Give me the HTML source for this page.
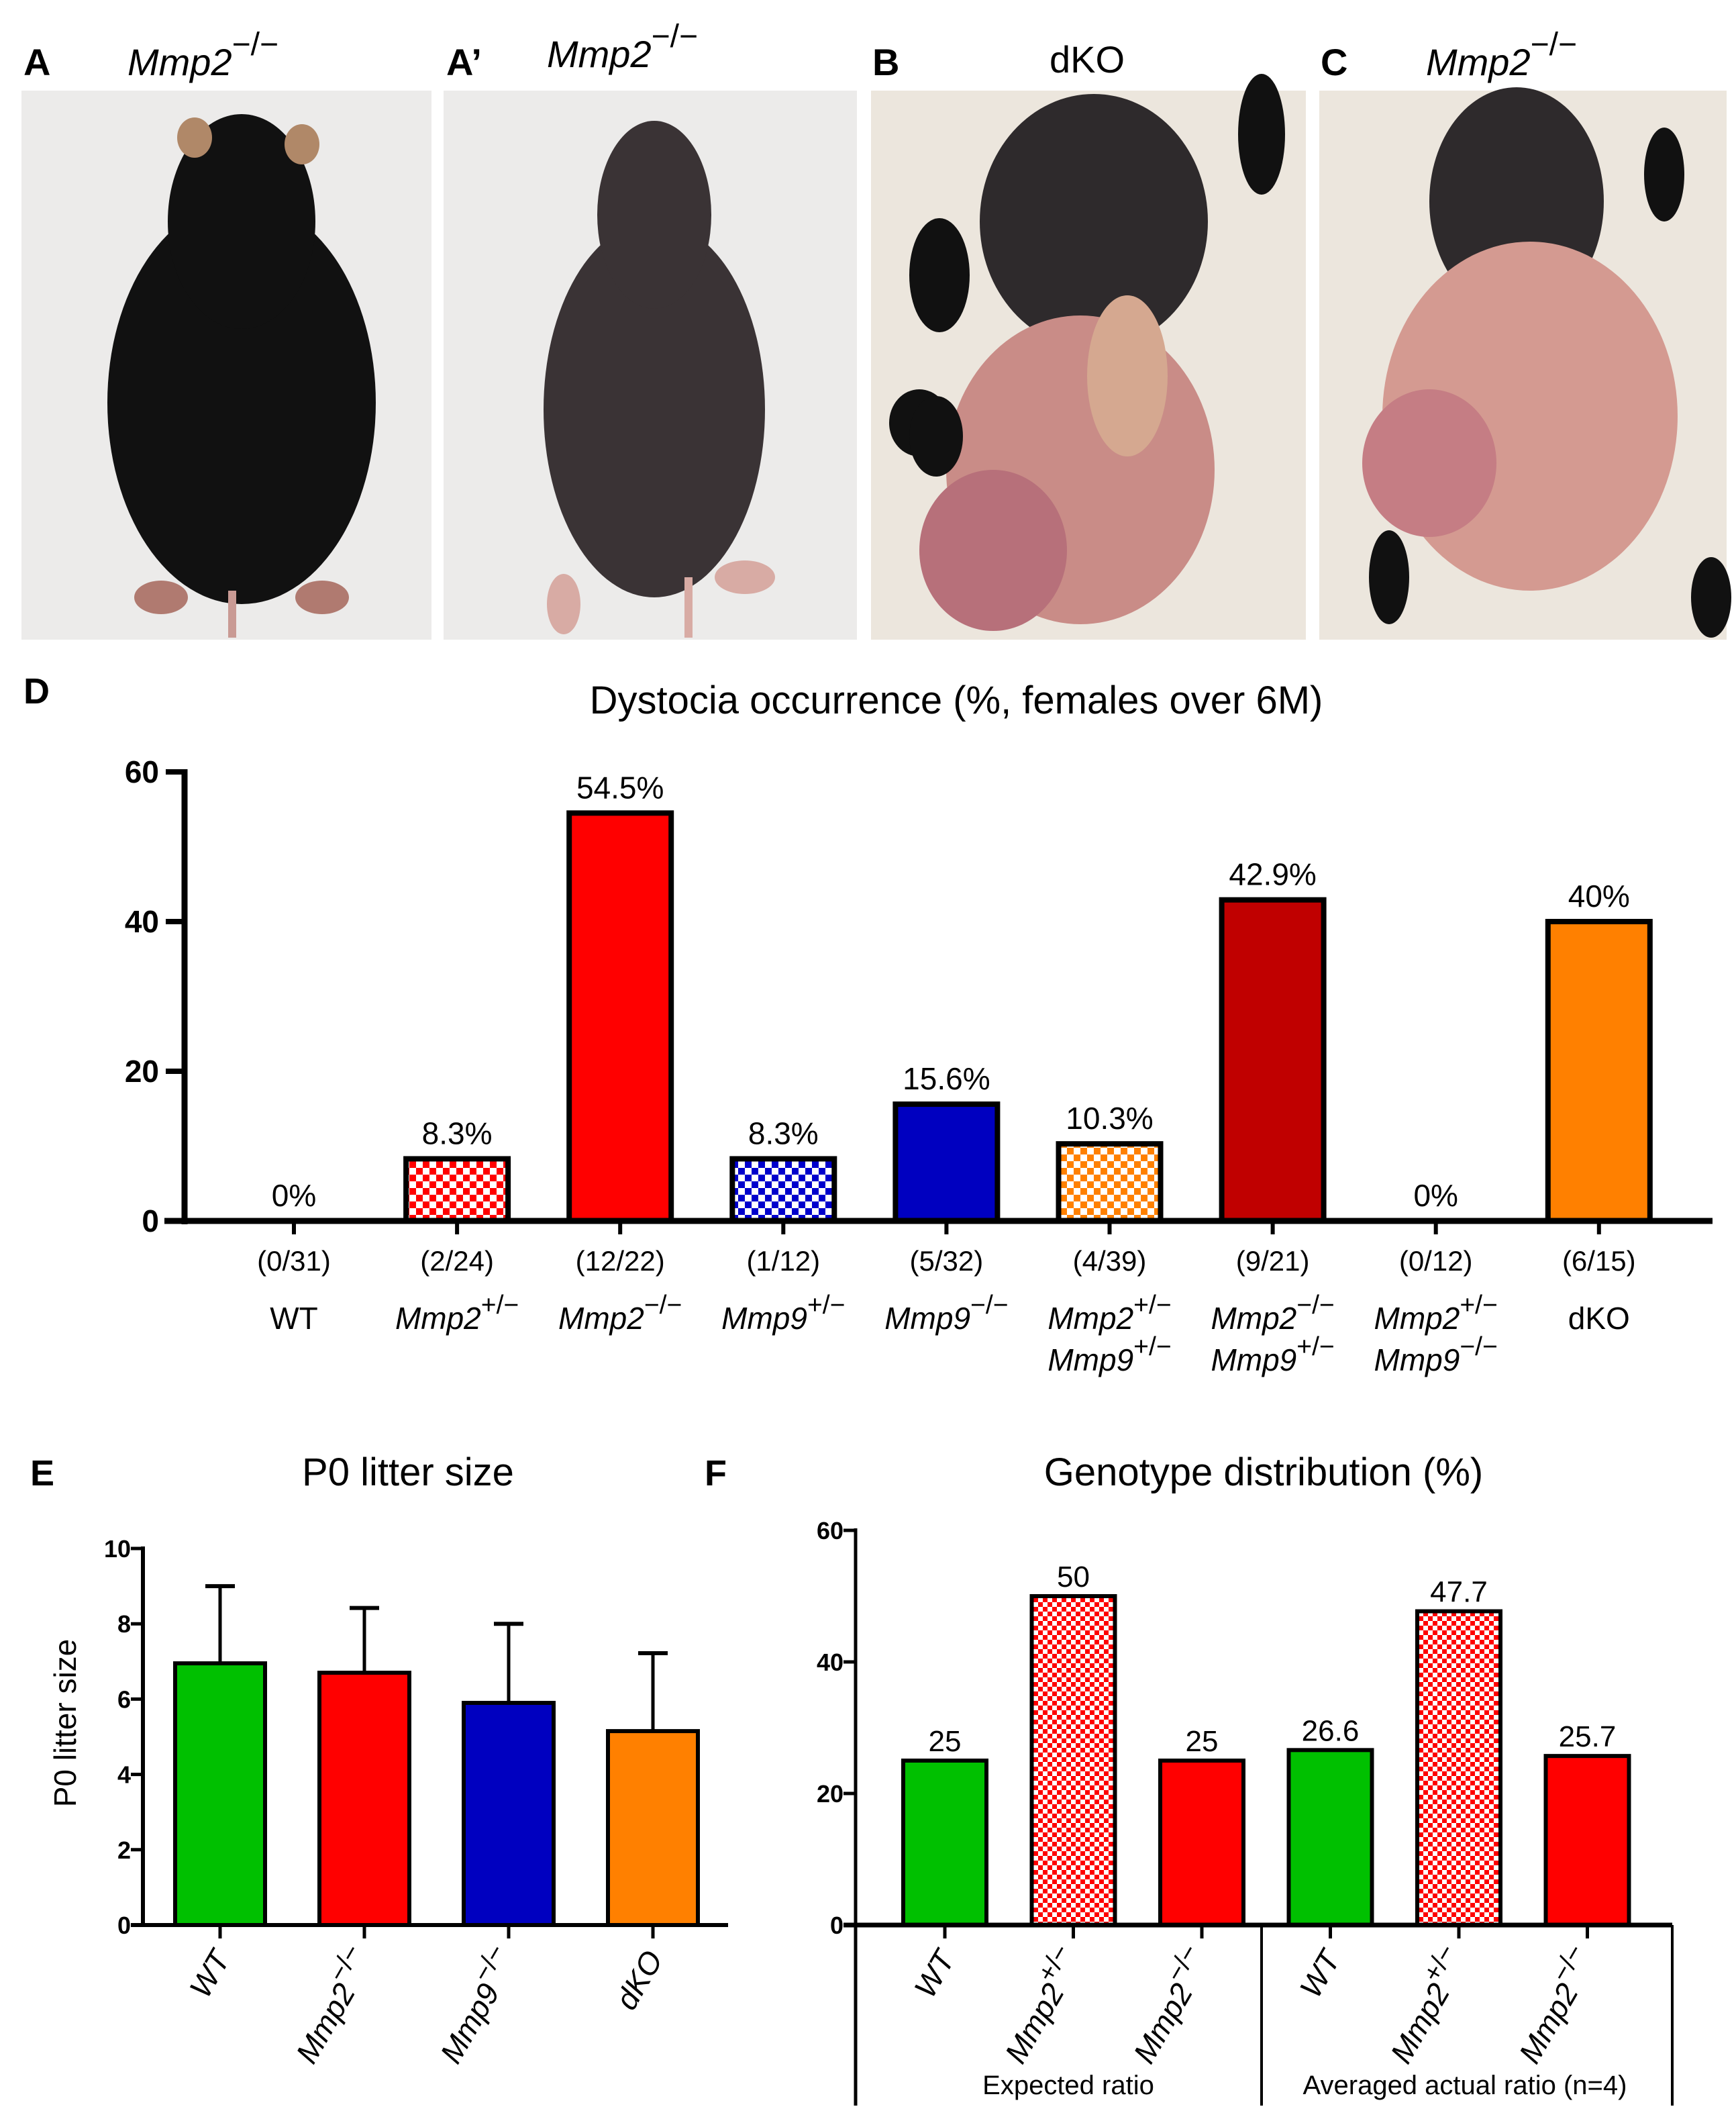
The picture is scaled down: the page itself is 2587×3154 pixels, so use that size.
<!DOCTYPE html>
<html><head><meta charset="utf-8"><style>
html,body{margin:0;padding:0;background:#fff}
svg{display:block;font-family:"Liberation Sans","DejaVu Sans",sans-serif}
</style></head><body>
<svg id="fig" width="2587" height="3154" viewBox="0 0 2587 3154" xmlns="http://www.w3.org/2000/svg">
<defs>
<pattern id="chkR" width="20" height="20" patternUnits="userSpaceOnUse"><rect width="20" height="20" fill="#fff"/><rect width="10" height="10" fill="#f00"/><rect x="10" y="10" width="10" height="10" fill="#f00"/></pattern>
<pattern id="chkB" width="20" height="20" patternUnits="userSpaceOnUse"><rect width="20" height="20" fill="#fff"/><rect width="10" height="10" fill="#0000cc"/><rect x="10" y="10" width="10" height="10" fill="#0000cc"/></pattern>
<pattern id="chkO" width="20" height="20" patternUnits="userSpaceOnUse"><rect width="20" height="20" fill="#fff"/><rect width="10" height="10" fill="#ff8000"/><rect x="10" y="10" width="10" height="10" fill="#ff8000"/></pattern>
<pattern id="chkF" width="14" height="14" patternUnits="userSpaceOnUse"><rect width="14" height="14" fill="#fff"/><rect width="7" height="7" fill="#f00"/><rect x="7" y="7" width="7" height="7" fill="#f00"/></pattern>
</defs>

<!-- photos -->
<g>
<rect x="32" y="135" width="611" height="818" fill="#ecebea"/>
<ellipse cx="360" cy="600" rx="200" ry="300" fill="#111"/>
<ellipse cx="360" cy="330" rx="110" ry="160" fill="#111"/>
<ellipse cx="290" cy="205" rx="26" ry="30" fill="#b08868"/><ellipse cx="450" cy="215" rx="26" ry="30" fill="#b08868"/>
<ellipse cx="240" cy="890" rx="40" ry="25" fill="#b07a70"/><ellipse cx="480" cy="890" rx="40" ry="25" fill="#b07a70"/>
<rect x="340" y="880" width="12" height="70" fill="#c99a94"/>
</g>
<g>
<rect x="661" y="135" width="616" height="818" fill="#ecebea"/>
<ellipse cx="975" cy="610" rx="165" ry="280" fill="#3a3335"/>
<ellipse cx="975" cy="320" rx="85" ry="140" fill="#3a3335"/>
<ellipse cx="1110" cy="860" rx="45" ry="25" fill="#d8aba4"/><ellipse cx="840" cy="900" rx="25" ry="45" fill="#d8aba4"/>
<rect x="1020" y="860" width="12" height="90" fill="#d8aba4"/>
</g>
<g>
<rect x="1298" y="135" width="648" height="818" fill="#ece6dd"/>
<ellipse cx="1630" cy="330" rx="170" ry="190" fill="#2e2a2c"/>
<ellipse cx="1610" cy="700" rx="200" ry="230" fill="#c98c87"/>
<ellipse cx="1480" cy="820" rx="110" ry="120" fill="#b7707a"/>
<ellipse cx="1680" cy="560" rx="60" ry="120" fill="#d5a890"/>
<ellipse cx="1400" cy="410" rx="45" ry="85" fill="#111"/><ellipse cx="1880" cy="200" rx="35" ry="90" fill="#111"/>
<ellipse cx="1370" cy="630" rx="45" ry="50" fill="#111"/><ellipse cx="1395" cy="650" rx="40" ry="60" fill="#111"/>
</g>
<g>
<rect x="1966" y="135" width="607" height="818" fill="#ece6dd"/>
<ellipse cx="2260" cy="300" rx="130" ry="170" fill="#2e2a2c"/>
<ellipse cx="2280" cy="620" rx="220" ry="260" fill="#d49a91"/>
<ellipse cx="2130" cy="690" rx="100" ry="110" fill="#c57d84"/>
<ellipse cx="2480" cy="260" rx="30" ry="70" fill="#111"/><ellipse cx="2070" cy="860" rx="30" ry="70" fill="#111"/><ellipse cx="2550" cy="890" rx="30" ry="60" fill="#111"/>
</g>
<g font-size="56">
<text x="35" y="112" font-weight="bold">A</text>
<text x="190" y="112" font-style="italic">Mmp2<tspan dy="-30" font-size="48" font-style="normal">−/−</tspan></text>
<text x="665" y="112" font-weight="bold">A’</text>
<text x="815" y="100" font-style="italic">Mmp2<tspan dy="-30" font-size="48" font-style="normal">−/−</tspan></text>
<text x="1300" y="112" font-weight="bold">B</text>
<text x="1620" y="108" text-anchor="middle">dKO</text>
<text x="1968" y="112" font-weight="bold">C</text>
<text x="2125" y="112" font-style="italic">Mmp2<tspan dy="-30" font-size="48" font-style="normal">−/−</tspan></text>
</g>
<g id="pD"></g><g id="pE"></g><g id="pF"></g>
</svg>
<script>
// Panel D data
const dCats = ["WT","Mmp2+/-","Mmp2-/-","Mmp9+/-","Mmp9-/-","Mmp2+/-Mmp9+/-","Mmp2-/-Mmp9+/-","Mmp2+/-Mmp9-/-","dKO"];
const dValues = [0, 8.3, 54.5, 8.3, 15.6, 10.3, 42.9, 0, 40];
const dValueLabels = ["0%","8.3%","54.5%","8.3%","15.6%","10.3%","42.9%","0%","40%"];
const dCounts = ["(0/31)","(2/24)","(12/22)","(1/12)","(5/32)","(4/39)","(9/21)","(0/12)","(6/15)"];
const dTicks = [0, 20, 40, 60];
// Panel E data
const eCats = ["WT","Mmp2-/-","Mmp9-/-","dKO"];
const eMeans = [6.95, 6.7, 5.9, 5.15];
const eErrTop = [9.0, 8.42, 8.0, 7.22];
const eTicks = [0, 2, 4, 6, 8, 10];
// Panel F data
const fCats = ["WT","Mmp2+/-","Mmp2-/-","WT","Mmp2+/-","Mmp2-/-"];
const fValues = [25, 50, 25, 26.6, 47.7, 25.7];
const fValueLabels = ["25","50","25","26.6","47.7","25.7"];
const fTicks = [0, 20, 40, 60];
const fGroups = ["Expected ratio","Averaged actual ratio (n=4)"];

const NS = "http://www.w3.org/2000/svg";
function mk(tag, attrs, parent){const e=document.createElementNS(NS,tag);for(const k in attrs)e.setAttribute(k,attrs[k]);parent.appendChild(e);return e;}
function geno(t, txt, fs){
  const m = txt.match(/^(Mmp\d)([+-]\/[+-])$/);
  if(!m){t.textContent=txt;return;}
  const a=mk('tspan',{'font-style':'italic'},t);a.textContent=m[1];
  const b=mk('tspan',{dy:-fs*0.5,'font-size':fs*0.85},t);b.textContent=m[2].replace(/-/g,'−');
}

// ---------- Panel D ----------
(function(){
  const g=document.getElementById('pD');
  const x0=275,x1=2552,yTop=1150,yBot=1819,vmax=60;
  const y=v=>yBot-(v/vmax)*(yBot-yTop);
  const xc=i=>438+i*243.1;
  const bw=152;
  const fills=["#fff","url(#chkR)","#ff0000","url(#chkB)","#0000c0","url(#chkO)","#c00000","#fff","#ff8000"];
  let t=mk('text',{x:35,y:1048,'font-size':54,'font-weight':'bold'},g);t.textContent="D";
  
  t=mk('text',{x:1425,y:1063,'font-size':58,'text-anchor':'middle'},g);t.textContent="Dystocia occurrence (%, females over 6M)";
  
  dValues.forEach((v,i)=>{
    if(v>0){const r=mk('rect',{x:xc(i)-bw/2,y:y(v),width:bw,height:yBot-y(v),fill:fills[i],stroke:'#000','stroke-width':8},g);
      }
    const vl=mk('text',{x:xc(i),y:y(v)-22,'font-size':46,'text-anchor':'middle'},g);vl.textContent=dValueLabels[i];
    
    mk('line',{x1:xc(i),x2:xc(i),y1:yBot,y2:yBot+20,stroke:'#000','stroke-width':6},g);
    const c=mk('text',{x:xc(i),y:1893,'font-size':42,'text-anchor':'middle'},g);c.textContent=dCounts[i];
    
    const parts=dCats[i].match(/Mmp\d[+-]\/[+-]|WT|dKO/g);
    parts.forEach((p,k)=>{const l=mk('text',{x:xc(i),y:1980+k*62,'font-size':46,'text-anchor':'middle'},g);geno(l,p,46);
      });
  });
  const ax=mk('line',{x1:x0,x2:x0,y1:yTop-4,y2:yBot+5,stroke:'#000','stroke-width':9},g);
  
  const xa=mk('line',{x1:x0-30,x2:x1,y1:yBot,y2:yBot,stroke:'#000','stroke-width':9},g);
  
  dTicks.forEach(v=>{mk('line',{x1:x0-28,x2:x0,y1:y(v),y2:y(v),stroke:'#000','stroke-width':8},g);
    const l=mk('text',{x:x0-38,y:y(v)+16,'font-size':46,'font-weight':'bold','text-anchor':'end'},g);l.textContent=v;
    });
})();

// ---------- Panel E ----------
(function(){
  const g=document.getElementById('pE');
  const x0=213,x1=1085,yTop=2307,yBot=2868,vmax=10;
  const y=v=>yBot-(v/vmax)*(yBot-yTop);
  const xc=i=>328+i*215;
  const bw=134;
  const fills=["#00c000","#ff0000","#0000c0","#ff8000"];
  let t=mk('text',{x:45,y:2213,'font-size':54,'font-weight':'bold'},g);t.textContent="E";
  
  t=mk('text',{x:608,y:2213,'font-size':58,'text-anchor':'middle'},g);t.textContent="P0 litter size";
  
  t=mk('text',{x:0,y:0,'font-size':46,'text-anchor':'middle',transform:'translate(113,2567) rotate(-90)'},g);t.textContent="P0 litter size";
  
  eMeans.forEach((v,i)=>{
    mk('line',{x1:xc(i),x2:xc(i),y1:y(eErrTop[i]),y2:y(v),stroke:'#000','stroke-width':5},g);
    mk('line',{x1:xc(i)-22,x2:xc(i)+22,y1:y(eErrTop[i]),y2:y(eErrTop[i]),stroke:'#000','stroke-width':6},g);
    const r=mk('rect',{x:xc(i)-bw/2,y:y(v),width:bw,height:yBot-y(v),fill:fills[i],stroke:'#000','stroke-width':6},g);
    
    mk('line',{x1:xc(i),x2:xc(i),y1:yBot,y2:yBot+20,stroke:'#000','stroke-width':5},g);
    const l=mk('text',{x:0,y:0,'font-size':46,'text-anchor':'end',transform:`translate(${xc(i)+16},${yBot+50}) rotate(-60)`},g);
    geno(l,eCats[i],46);if(!eCats[i].startsWith('Mmp'))l.setAttribute('font-style','italic');
    
  });
  const ax=mk('line',{x1:x0,x2:x0,y1:yTop-3,y2:yBot+3,stroke:'#000','stroke-width':6},g);
  
  const xa=mk('line',{x1:x0-18,x2:x1,y1:yBot,y2:yBot,stroke:'#000','stroke-width':6},g);
  
  eTicks.forEach(v=>{mk('line',{x1:x0-18,x2:x0,y1:y(v),y2:y(v),stroke:'#000','stroke-width':5},g);
    const l=mk('text',{x:x0-18,y:y(v)+13,'font-size':36,'font-weight':'bold','text-anchor':'end'},g);l.textContent=v;
    });
})();

// ---------- Panel F ----------
(function(){
  const g=document.getElementById('pF');
  const x0=1275,x1=2492,yTop=2280,yBot=2868,vmax=60;
  const y=v=>yBot-(v/vmax)*(yBot-yTop);
  const xc=i=>1408+i*191.5;
  const bw=124;
  const fills=["#00c000","url(#chkF)","#ff0000","#00c000","url(#chkF)","#ff0000"];
  let t=mk('text',{x:1050,y:2213,'font-size':54,'font-weight':'bold'},g);t.textContent="F";
  
  t=mk('text',{x:1883,y:2213,'font-size':58,'text-anchor':'middle'},g);t.textContent="Genotype distribution (%)";
  
  fValues.forEach((v,i)=>{
    const r=mk('rect',{x:xc(i)-bw/2,y:y(v),width:bw,height:yBot-y(v),fill:fills[i],stroke:'#000','stroke-width':6},g);
    
    const vl=mk('text',{x:xc(i),y:y(v)-14,'font-size':44,'text-anchor':'middle'},g);vl.textContent=fValueLabels[i];
    
    mk('line',{x1:xc(i),x2:xc(i),y1:yBot,y2:yBot+20,stroke:'#000','stroke-width':5},g);
    const l=mk('text',{x:0,y:0,'font-size':46,'text-anchor':'end',transform:`translate(${xc(i)+16},${yBot+50}) rotate(-60)`},g);
    geno(l,fCats[i],46);if(!fCats[i].startsWith('Mmp'))l.setAttribute('font-style','italic');
    
  });
  const ax=mk('line',{x1:x0,x2:x0,y1:yTop-3,y2:3137,stroke:'#000','stroke-width':5},g);
  
  [1880,2492].forEach(xx=>mk('line',{x1:xx,x2:xx,y1:yBot,y2:3137,stroke:'#000','stroke-width':4},g));
  const xa=mk('line',{x1:x0-18,x2:x1,y1:yBot,y2:yBot,stroke:'#000','stroke-width':7},g);
  
  fTicks.forEach(v=>{mk('line',{x1:x0-18,x2:x0,y1:y(v),y2:y(v),stroke:'#000','stroke-width':5},g);
    const l=mk('text',{x:x0-18,y:y(v)+13,'font-size':36,'font-weight':'bold','text-anchor':'end'},g);l.textContent=v;
    });
  [1592,2183].forEach((cx,k)=>{const l=mk('text',{x:cx,y:3120,'font-size':40,'text-anchor':'middle'},g);l.textContent=fGroups[k];
    });
})();
</script>
</body></html>
